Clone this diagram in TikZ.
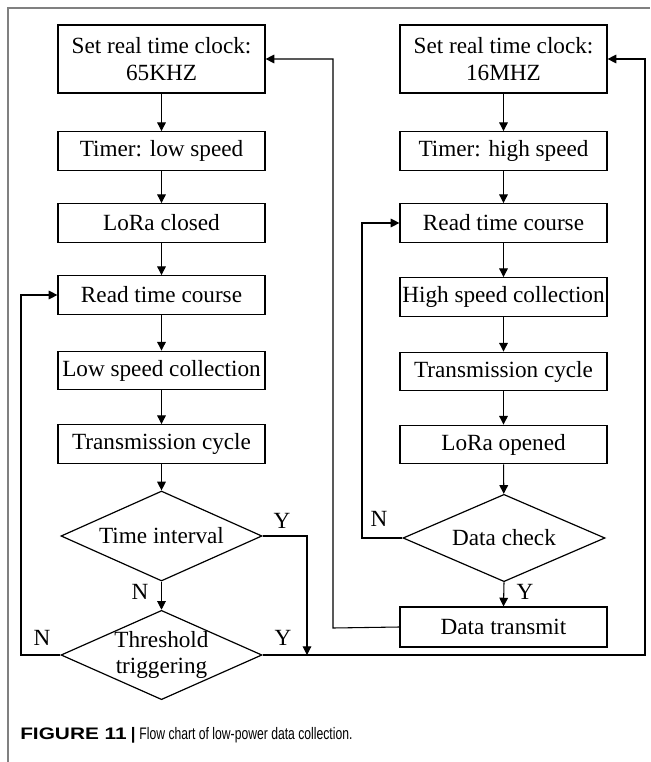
\documentclass[tikz,border=0pt]{standalone}
\usepackage{fontspec}
\setmainfont{Liberation Serif}
\newfontfamily\capfont{Liberation Sans}
\usetikzlibrary{shapes.geometric,arrows.meta}
\begin{document}
\begin{tikzpicture}[x=0.75pt,y=-0.75pt,
  txt/.style={font=\fontsize{17.4}{20}\selectfont},
  box/.style={txt, draw, line width=0.9pt, minimum width=155.25pt, minimum height=29pt, inner sep=0pt, align=center},
  dia/.style={draw, diamond, line width=0.9pt, inner sep=0pt},
  arr/.style={line width=0.8pt, -{Triangle[length=6.5pt,width=6.5pt]}},
  lab/.style={txt, inner sep=0pt},
  frame/.style={draw=black!50, line width=1.1pt}
]
\useasboundingbox (0,0) rectangle (650,762);
\draw[frame] (8,762) -- (8,8) -- (650,8);

% left column
\node[box, minimum height=51pt] (b1) at (161.5,59) {Set real time clock:\\65KHZ};
\node[box] (b2) at (161.5,151) {Timer: low speed};
\node[box] (b3) at (161.5,223) {LoRa closed};
\node[box] (b4) at (161.5,295) {Read time course};
\node[box] (b5) at (161.5,370.5) {Low speed collection};
\node[box] (b6) at (161.5,444) {Transmission cycle};
\node[dia, minimum width=150.75pt, minimum height=67.5pt,
  label={[txt]center:Time interval}] (d1) at (161.5,536) {};
\node[dia, minimum width=150.75pt, minimum height=67pt,
  label={[txt, align=center]center:Threshold\\triggering}] (d2) at (161.5,655) {};

% right column
\node[box, minimum height=51pt] (r1) at (503.5,59) {Set real time clock:\\16MHZ};
\node[box] (r2) at (503.5,151) {Timer: high speed};
\node[box] (r3) at (503.5,223) {Read time course};
\node[box] (r4) at (503.5,297) {High speed collection};
\node[box] (r5) at (503.5,371.5) {Transmission cycle};
\node[box] (r6) at (503.5,444.5) {LoRa opened};
\node[dia, minimum width=151.5pt, minimum height=65.5pt,
  label={[txt]center:Data check}] (d3) at (504,538) {};
\node[box, minimum height=30pt] (r7) at (503.5,627) {Data transmit};

% helper coordinates
\coordinate (yjoin) at (307,655);
\coordinate (rc) at (645,655);
\coordinate (lc) at (21,655);
\coordinate (dc) at (362,538);
\coordinate (tc) at (333,628);

% straight arrows
\draw[arr] (b1) -- (b2);
\draw[arr] (b2) -- (b3);
\draw[arr] (b3) -- (b4);
\draw[arr] (b4) -- (b5);
\draw[arr] (b5) -- (b6);
\draw[arr] (b6) -- (d1);
\draw[arr] (d1.south) -- (d2.north);
\draw[arr] (r1) -- (r2);
\draw[arr] (r2) -- (r3);
\draw[arr] (r3) -- (r4);
\draw[arr] (r4) -- (r5);
\draw[arr] (r5) -- (r6);
\draw[arr] (r6) -- (d3);
\draw[arr] (d3.south) -- (r7.north);

% loops
\draw[arr] (d1.east) -| (yjoin);
\draw[arr] (d2.east) -- (rc) |- (r1.east);
\draw[arr] (d2.west) -- (lc) |- (b4.west);
\draw[arr] (d3.west) -- (dc) |- (r3.west);
\draw[arr] (r7.west) -- (tc) |- (b1.east);

% labels
\node[lab] (ly1) at (282,521) {Y};
\node[lab] (ln1) at (140,592) {N};
\node[lab] (ly2) at (283,638) {Y};
\node[lab] (ln2) at (42,638) {N};
\node[lab] (ln3) at (379,519) {N};
\node[lab] (ly3) at (525,592) {Y};

% caption
\node[anchor=base west, inner sep=0pt, font=\capfont\fontsize{12.5}{14}\selectfont] (cap) at (20,739)
  {\scalebox{1.25}[1]{\textbf{FIGURE 11}}\hspace{3pt}\textbf{|}\hspace{3pt}\scalebox{0.73}[1]{Flow chart of low-power data collection.}};
\end{tikzpicture}
\end{document}
